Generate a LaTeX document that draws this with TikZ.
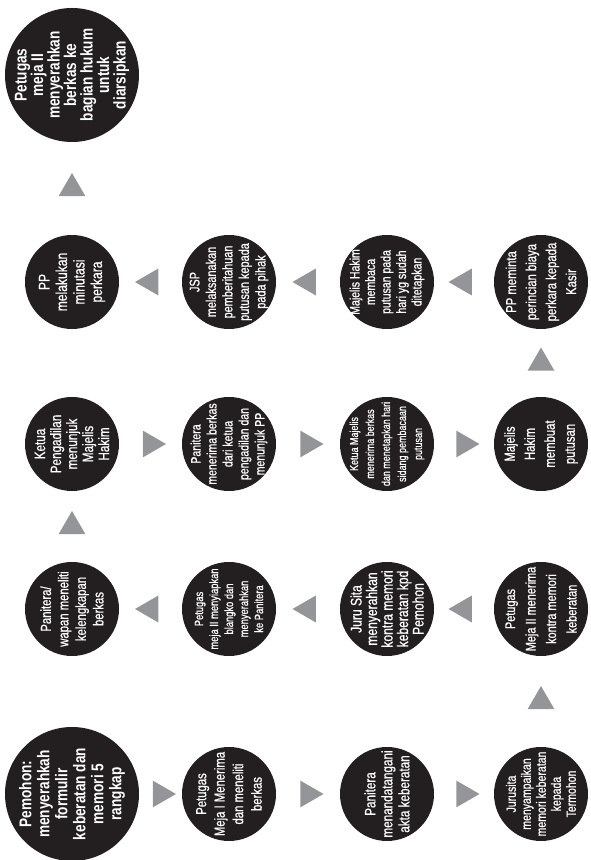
\documentclass[tikz,border=0pt]{standalone}
\usepackage{fontspec}
\usepackage{tikz}
\usetikzlibrary{calc,shapes.geometric}

\newfontfamily\condsans[FakeStretch=0.78,FakeBold=0.7]{Liberation Sans}
\newfontfamily\condhead[FakeStretch=0.8]{Liberation Sans}
\newcommand{\fs}[2]{\condsans\fontsize{#1}{#2}\selectfont}
\newcommand{\fb}[2]{\condhead\bfseries\fontsize{#1}{#2}\selectfont}
\definecolor{discblack}{HTML}{231F20}
\definecolor{trigray}{HTML}{939598}

\begin{document}
\begin{tikzpicture}[
  x=1pt, y=1pt,
  disc/.style={circle,fill=discblack,inner sep=0pt,minimum size=94pt},
  bigdisc/.style={disc,minimum size=134pt},
  txt/.style={text=white,align=center,rotate=90,inner sep=0pt},
  tri/.style={regular polygon,regular polygon sides=3,fill=trigray,inner sep=0pt,minimum size=31pt},
  triR/.style={tri,rotate=-90},
  triL/.style={tri,rotate=90},
  triU/.style={tri}
]
\useasboundingbox (0,0) rectangle (591,860);

% row 4
\node[bigdisc] (pemohon)  at ( 72, 66) {};
\node[disc]    (meja1)    at (229, 66) {};
\node[disc]    (akta)     at (387, 66) {};
\node[disc]    (jurusita) at (541, 66) {};
% row 3
\node[disc] (kontra)  at (541,251) {};
\node[disc] (jsita)   at (387,251) {};
\node[disc] (blangko) at (229,251) {};
\node[disc] (teliti)  at ( 72,251) {};
% row 2
\node[disc] (ketua)   at ( 72,416) {};
\node[disc] (terima)  at (229,416) {};
\node[disc] (sidang)  at (387,416) {};
\node[disc] (putusan) at (541,416) {};
% row 1
\node[disc] (biaya)    at (541,578) {};
\node[disc] (baca)     at (387,578) {};
\node[disc] (jsp)      at (229,578) {};
\node[disc] (minutasi) at ( 72,578) {};
% top
\node[bigdisc] (arsip) at (72,785) {};

% texts
\node[txt,font=\fb{17}{18}] (pemohon-t) at (pemohon) {Pemohon:\\menyerahkah\\formulir\\keberatan dan\\memori 5\\rangkap};
\node[txt,font=\fs{14.5}{18.5}] (meja1-t) at (meja1) {Petugas\\Meja I Menerima\\dan meneliti\\berkas};
\node[txt,font=\fs{15}{17}] (akta-t) at (akta) {Panitera\\menandatangani\\akta keberatan};
\node[txt,font=\fs{13.5}{15}] (jurusita-t) at (jurusita) {Jurusita\\menyampaikan\\memori keberatan\\kepada\\Termohon};
\node[txt,font=\fs{14}{20.5}] (kontra-t) at (kontra) {Petugas\\Meja II menerima\\kontra memori\\keberatan};
\node[txt,font=\fs{15.5}{15.5}] (jsita-t) at (jsita) {Juru Sita\\menyerahkan\\kontra memori\\keberatan kpd\\Pemohon};
\node[txt,font=\fs{12}{15}] (blangko-t) at (blangko) {Petugas\\meja II menyiapkan\\blangko dan\\menyerahkan\\ke Panitera};
\node[txt,font=\fs{14.5}{17.5}] (teliti-t) at (teliti) {Panitera/\\wapan meneliti\\kelengkapan\\berkas};
\node[txt,font=\fs{15}{16}] (ketua-t) at (ketua) {Ketua\\Pengadilan\\menunjuk\\Majelis\\Hakim};
\node[txt,font=\fs{13.5}{16}] (terima-t) at (terima) {Panitera\\menerima berkas\\dari ketua\\pengadilan dan\\menunjuk PP};
\node[txt,font=\fs{11.5}{16}] (sidang-t) at (sidang) {Ketua Majelis\\menerima berkas\\dan menetapkan hari\\sidang pembacaan\\putusan};
\node[txt,font=\fs{14.5}{20}] (putusan-t) at (putusan) {Majelis\\Hakim\\membuat\\putusan};
\node[txt,font=\fs{14.5}{20}] (biaya-t) at (biaya) {PP meminta\\perincian biaya\\perkara kepada\\Kasir};
\node[txt,font=\fs{13.5}{15.5}] (baca-t) at (baca) {Majelis Hakim\\membaca\\putusan pada\\hari yg sudah\\ditetapkan};
\node[txt,font=\fs{14}{16.5}] (jsp-t) at (jsp) {JSP\\melaksanakan\\pemberitahuan\\putusan kepada\\pada pihak};
\node[txt,font=\fs{15.5}{17.5}] (minutasi-t) at (minutasi) {PP\\melakukan\\minutasi\\perkara};
\node[txt,font=\fb{17}{16.5}] (arsip-t) at (arsip) {Petugas\\meja II\\menyerahkan\\berkas ke\\bagian hukum\\untuk\\diarsipkan};

% arrows
\node[triR] (a1)  at ($(pemohon.east)!0.5!(meja1.west)$) {};
\node[triR] (a2)  at ($(meja1.east)!0.5!(akta.west)$) {};
\node[triR] (a3)  at ($(akta.east)!0.5!(jurusita.west)$) {};
\node[triU] (a4)  at ($(jurusita.north)!0.5!(kontra.south)$) {};
\node[triL] (a5)  at ($(kontra.west)!0.5!(jsita.east)$) {};
\node[triL] (a6)  at ($(jsita.west)!0.5!(blangko.east)$) {};
\node[triL] (a7)  at ($(blangko.west)!0.5!(teliti.east)$) {};
\node[triU] (a8)  at ($(teliti.north)!0.5!(ketua.south)$) {};
\node[triR] (a9)  at ($(ketua.east)!0.5!(terima.west)$) {};
\node[triR] (a10) at ($(terima.east)!0.5!(sidang.west)$) {};
\node[triR] (a11) at ($(sidang.east)!0.5!(putusan.west)$) {};
\node[triU] (a12) at ($(putusan.north)!0.5!(biaya.south)$) {};
\node[triL] (a13) at ($(biaya.west)!0.5!(baca.east)$) {};
\node[triL] (a14) at ($(baca.west)!0.5!(jsp.east)$) {};
\node[triL] (a15) at ($(jsp.west)!0.5!(minutasi.east)$) {};
\node[triU] (a16) at ($(minutasi.north)!0.5!(arsip.south)$) {};
\end{tikzpicture}
\end{document}
